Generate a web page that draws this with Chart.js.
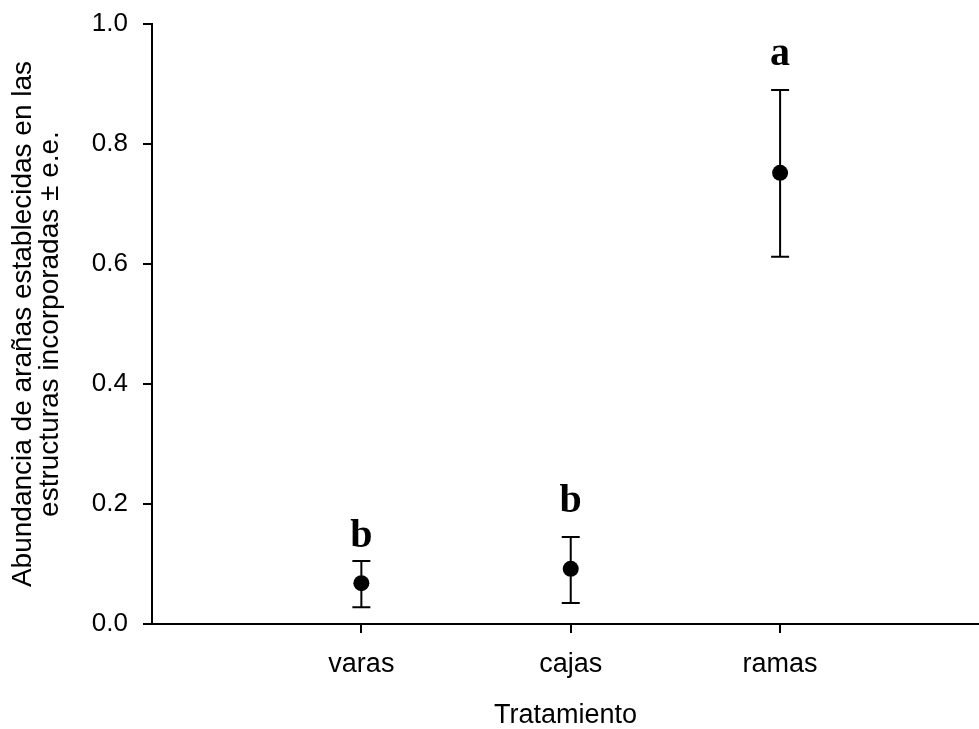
<!DOCTYPE html>
<html>
<head>
<meta charset="utf-8">
<script src="https://cdn.jsdelivr.net/npm/chart.js@4.4.1/dist/chart.umd.min.js"></script>
<style>
  html, body { margin: 0; padding: 0; background: #ffffff; }
  #wrap { width: 979px; height: 729px; position: relative; }
</style>
</head>
<body>
<div id="wrap"><canvas id="c" width="979" height="729"></canvas></div>
<script>
// ---- data ----
const categories = ["varas", "cajas", "ramas"];
const categoryPositions = [1, 2, 3];
const means = [0.068, 0.092, 0.752];
const upperErr = [0.105, 0.145, 0.890];
const lowerErr = [0.028, 0.035, 0.612];
const groupLetters = ["b", "b", "a"];
const letterValues = [0.128, 0.187, 0.932];
const yTicks = [0.0, 0.2, 0.4, 0.6, 0.8, 1.0];
const yTitle = ["Abundancia de arañas establecidas en las", "estructuras incorporadas ± e.e."];
const xTitle = "Tratamiento";

const points = categoryPositions.map((x, i) => ({ x: x, y: means[i] }));

const errorBarPlugin = {
  id: 'errorBars',
  beforeDatasetsDraw(chart) {
    const { ctx, scales: { x, y } } = chart;
    ctx.save();
    ctx.strokeStyle = '#000';
    ctx.lineWidth = 2;
    const cap = 9;
    categoryPositions.forEach((cx, i) => {
      const px = x.getPixelForValue(cx);
      const top = y.getPixelForValue(upperErr[i]);
      const bot = y.getPixelForValue(lowerErr[i]);
      ctx.beginPath();
      ctx.moveTo(px, top); ctx.lineTo(px, bot);
      ctx.moveTo(px - cap, top); ctx.lineTo(px + cap, top);
      ctx.moveTo(px - cap, bot); ctx.lineTo(px + cap, bot);
      ctx.stroke();
    });
    ctx.restore();
  },
  afterDatasetsDraw(chart) {
    const { ctx, scales: { x, y } } = chart;
    ctx.save();
    ctx.fillStyle = '#000';
    ctx.font = 'bold 40px "Liberation Serif", "DejaVu Serif", serif';
    ctx.textAlign = 'center';
    ctx.textBaseline = 'alphabetic';
    categoryPositions.forEach((cx, i) => {
      ctx.fillText(groupLetters[i], x.getPixelForValue(cx), y.getPixelForValue(letterValues[i]));
    });
    ctx.restore();
  }
};

function zeroPad(scale) {
  scale.paddingTop = 0; scale.paddingBottom = 0;
  scale.paddingLeft = 0; scale.paddingRight = 0;
}

new Chart(document.getElementById('c'), {
  type: 'scatter',
  data: {
    datasets: [{
      data: points,
      backgroundColor: '#000',
      borderColor: '#000',
      pointRadius: 8,
      pointHoverRadius: 8,
      pointBorderWidth: 0,
      clip: false
    }]
  },
  plugins: [errorBarPlugin],
  options: {
    responsive: false,
    animation: false,
    events: [],
    layout: { autoPadding: false, padding: { top: 24, right: 0, left: 0, bottom: 0 } },
    plugins: { legend: { display: false }, tooltip: { enabled: false } },
    scales: {
      x: {
        type: 'linear',
        min: 0,
        max: 3.95,
        afterBuildTicks(scale) { scale.ticks = categoryPositions.map(v => ({ value: v })); },
        afterFit(scale) { scale.height = 105; zeroPad(scale); },
        ticks: {
          color: '#000',
          font: { family: '"Liberation Sans", Arial, sans-serif', size: 27 },
          padding: 15,
          maxRotation: 0,
          autoSkip: false,
          callback: (v) => { const i = categoryPositions.indexOf(v); return i >= 0 ? categories[i] : ''; }
        },
        grid: { display: true, drawOnChartArea: false, drawTicks: true, tickLength: 9, color: '#000', lineWidth: 2 },
        border: { display: true, color: '#000', width: 2 },
        title: {
          display: true, text: xTitle, color: '#000',
          font: { family: '"Liberation Sans", Arial, sans-serif', size: 27, lineHeight: 1.0 },
          padding: { top: 0, bottom: 0 }
        }
      },
      y: {
        min: 0,
        max: 1.0,
        afterBuildTicks(scale) { scale.ticks = yTicks.map(v => ({ value: v })); },
        afterFit(scale) { scale.width = 152; zeroPad(scale); },
        ticks: {
          color: '#000',
          font: { family: '"Liberation Sans", Arial, sans-serif', size: 26 },
          padding: 15,
          callback: (v) => v.toFixed(1)
        },
        grid: { display: true, drawOnChartArea: false, drawTicks: true, tickLength: 9, color: '#000', lineWidth: 2 },
        border: { display: true, color: '#000', width: 2 },
        title: {
          display: true, text: yTitle, color: '#000',
          font: { family: '"Liberation Sans", Arial, sans-serif', size: 28, lineHeight: 0.97 },
          padding: { top: 10, bottom: 0 }
        }
      }
    }
  }
});
</script>
</body>
</html>
